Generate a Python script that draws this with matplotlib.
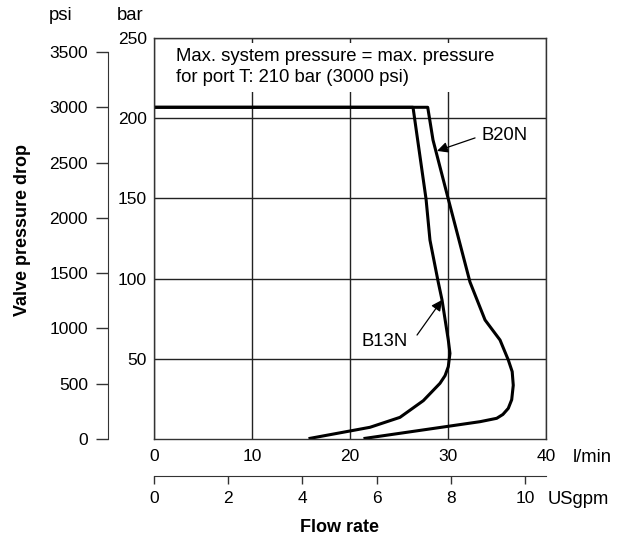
import matplotlib

matplotlib.use("Agg")
import matplotlib.pyplot as plt

plt.rcParams["font.family"] = ["Liberation Sans", "DejaVu Sans"]
plt.rcParams["font.size"] = 12.5

PSI_PER_BAR = 14.5038
LPM_PER_GPM = 3.78541
W, H = 621, 538

bar_ticks = [50, 100, 150, 200, 250]
psi_ticks = [0, 500, 1000, 1500, 2000, 2500, 3000, 3500]
lpm_ticks = [0, 10, 20, 30, 40]
gpm_ticks = [0, 2, 4, 6, 8, 10]

# flow (l/min) vs pressure drop (bar)
b20n_flow = [0.0, 27.93, 28.47, 30.03, 32.24, 33.78, 35.31, 36.15, 36.55, 36.66, 36.5, 36.15, 35.6, 34.97, 33.27, 21.53]
b20n_bar = [206.8, 206.8, 186.4, 149.6, 97.9, 74.2, 61.7, 49.3, 42.0, 33.5, 24.5, 19.1, 15.3, 12.9, 10.8, 0.4]
b13n_flow = [0.0, 26.43, 27.76, 28.16, 29.0, 29.39, 30.03, 30.2, 30.03, 29.7, 29.18, 27.48, 25.1, 22.04, 15.92]
b13n_bar = [206.8, 206.8, 149.6, 124.0, 97.9, 86.7, 61.7, 53.4, 45.1, 39.5, 34.7, 23.9, 13.5, 7.3, 0.4]

note = "Max. system pressure = max. pressure\nfor port T: 210 bar (3000 psi)"


def px(x, y):
    return x / W, 1 - y / H


rect = [154 / W, 1 - 439 / H, 392 / W, 401 / H]
fig = plt.figure(figsize=(W / 100, H / 100), dpi=100)
ax = fig.add_axes(rect)
ax.set_xlim(0, 40)
ax.set_ylim(0, 250)
ax.set_xticks(lpm_ticks)
ax.set_yticks(bar_ticks)
ax.tick_params(axis="x", length=0, pad=7)
ax.tick_params(axis="y", length=0, pad=5)
ax.set_axisbelow(True)
ax.grid(True, color="#222222", linewidth=1.0)
for s in ax.spines.values():
    s.set_color("#333333")
    s.set_linewidth(1.0)

ax.plot(b20n_flow, b20n_bar, color="black", linewidth=2.2, solid_joinstyle="round")
ax.plot(b13n_flow, b13n_bar, color="black", linewidth=2.2, solid_joinstyle="round")

ax.text(2.2, 243.5, note, ha="left", va="top", linespacing=1.3, size=13.3,
        bbox=dict(facecolor="white", edgecolor="none", pad=4), zorder=3)

arrow = dict(arrowstyle="-|>", color="black", lw=0.9, mutation_scale=16, shrinkA=0, shrinkB=0)
ax.annotate("", xy=(28.88, 179.6), xytext=(32.76, 187.7), arrowprops=arrow)
ax.annotate("", xy=(29.39, 86.7), xytext=(26.84, 64.8), arrowprops=arrow)
ax.text(33.37, 189.5, "B20N", ha="left", va="center", size=13.3)
ax.text(21.2, 60.5, "B13N", ha="left", va="center", size=13.3)

# psi scale on its own spine to the left
axp = fig.add_axes(rect)
axp.patch.set_visible(False)
for s in ["top", "right", "bottom"]:
    axp.spines[s].set_visible(False)
axp.spines["left"].set_position(("axes", (108 - 154) / 392))
axp.spines["left"].set_bounds(0, 3500)
axp.spines["left"].set_color("#333333")
axp.set_ylim(0, 250 * PSI_PER_BAR)
axp.set_xticks([])
axp.set_yticks(psi_ticks)
axp.tick_params(axis="y", length=8.6, width=1.0, pad=5.8, color="#333333")

# US gallons per minute below the l/min labels
secx = ax.secondary_xaxis((439 - 476) / 401, functions=(lambda q: q / LPM_PER_GPM,
                                                        lambda g: g * LPM_PER_GPM))
secx.set_xticks(gpm_ticks)
secx.tick_params(direction="out", length=6, width=1.0, pad=5, color="#333333")
secx.spines["bottom"].set_color("#333333")

fig.text(*px(61, 15), "psi", ha="center", va="center", size=13.3)
fig.text(*px(130, 15), "bar", ha="center", va="center", size=13.3)
fig.text(*px(573, 457), "l/min", ha="left", va="center", size=13.3)
fig.text(*px(548, 499), "USgpm", ha="left", va="center", size=13.3)
fig.text(*px(340, 527), "Flow rate", ha="center", va="center", weight="bold", size=13)
fig.text(*px(23, 230), "Valve pressure drop", ha="center", va="center",
         rotation=90, weight="bold", size=13)

fig.savefig("out.png", dpi=100)
